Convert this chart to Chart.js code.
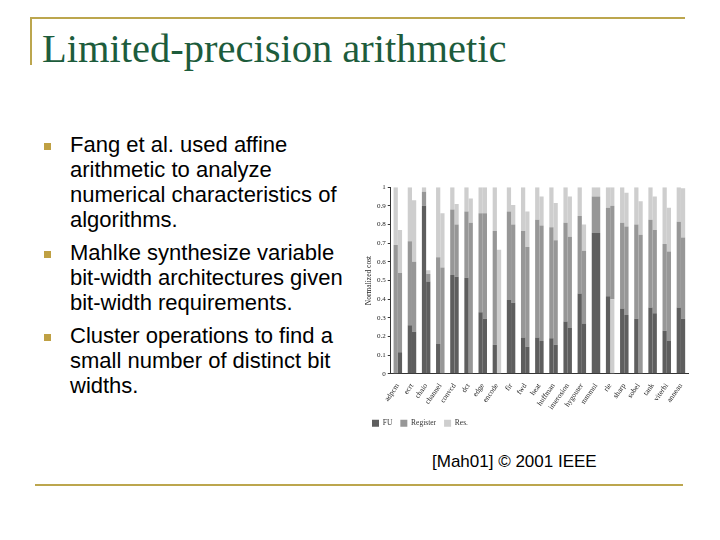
<!DOCTYPE html>
<html>
<head>
<meta charset="utf-8">
<script src="https://cdn.jsdelivr.net/npm/chart.js@4/dist/chart.umd.min.js"></script>
<style>
  html, body { margin: 0; padding: 0; background: #fff; }
  body { width: 720px; height: 540px; position: relative; overflow: hidden; }
  .rule { position: absolute; background: #bca64e; }
  #title { position: absolute; left: 42px; top: 24px; font: 40.5px "Liberation Serif", serif; color: #1d5c3c; line-height: 50px; white-space: nowrap; }
  .item { position: absolute; left: 70px; font: 22px "Liberation Sans", Arial, sans-serif; line-height: 25px; color: #000; white-space: nowrap; }
  .sq { position: absolute; left: 44px; width: 7px; height: 7px; background: #bfa043; }
  #cite { position: absolute; left: 432px; top: 452px; font: 17px "Liberation Sans", Arial, sans-serif; color: #000; white-space: nowrap; }
  #box { position: absolute; left: 358px; top: 181px; width: 332px; height: 262px; }
</style>
</head>
<body>
<div class="rule" style="left:30px;top:17px;width:655px;height:2px"></div>
<div class="rule" style="left:30px;top:17px;width:2px;height:48px"></div>
<div class="rule" style="left:35px;top:484px;width:648px;height:2px"></div>
<div id="title">Limited-precision arithmetic</div>

<div class="sq" style="top:143px"></div>
<div class="item" style="top:132px">Fang et al. used affine<br>arithmetic to analyze<br>numerical characteristics of<br>algorithms.</div>
<div class="sq" style="top:251px"></div>
<div class="item" style="top:240px">Mahlke synthesize variable<br>bit-width architectures given<br>bit-width requirements.</div>
<div class="sq" style="top:334px"></div>
<div class="item" style="top:323px">Cluster operations to find a<br>small number of distinct bit<br>widths.</div>

<div id="box"><canvas id="cost"></canvas></div>
<div id="cite">[Mah01] © 2001 IEEE</div>

<script>
// benchmarks, as printed under the bars
const benchmarks = ["adpcm", "ecrt", "chaio", "channel", "convcd", "dct", "edge", "encode", "fir", "fwd",
  "heat", "huffman", "imerosion", "hygouter", "mmmul", "rle", "sharp", "sobel", "tank", "viterbi", "anneau"];

// left bar of each pair (segment heights)
const fuA  = [0, 0.26, 0.90, 0.16, 0.53, 0.515, 0.33, 0.155, 0.395, 0.195, 0.195, 0.19, 0.28, 0.43, 0.755, 0.415, 0.35, 0.295, 0.355, 0.23, 0.355];
const regA = [0.69, 0.45, 0.075, 0.465, 0.35, 0.355, 0.53, 0.61, 0.475, 0.57, 0.63, 0.595, 0.53, 0.415, 0.195, 0.475, 0.46, 0.505, 0.47, 0.465, 0.46];
const resA = [0.31, 0.29, 0.025, 0.375, 0.12, 0.13, 0.14, 0.235, 0.13, 0.235, 0.175, 0.215, 0.19, 0.155, 0.05, 0.11, 0.19, 0.2, 0.175, 0.305, 0.185];

// right bar of each pair (segment heights); rle has a light part at the bottom
const lowB = [0, 0, 0, 0, 0, 0, 0, 0, 0, 0, 0, 0, 0, 0, 0, 0.40, 0, 0, 0, 0, 0];
const fuB  = [0.115, 0.225, 0.495, 0, 0.52, 0, 0.295, 0, 0.38, 0.145, 0.175, 0.155, 0.245, 0.27, 0.755, 0, 0.315, 0, 0.325, 0.175, 0.295];
const regB = [0.425, 0.375, 0.04, 0.57, 0.28, 0.81, 0.565, 0, 0.42, 0.535, 0.62, 0.56, 0.49, 0.39, 0.195, 0.5, 0.475, 0.745, 0.445, 0.48, 0.435];
const resB = [0.23, 0.33, 0.02, 0.29, 0.11, 0.13, 0.14, 0.665, 0.105, 0.19, 0.155, 0.2, 0.215, 0.14, 0.05, 0.10, 0.18, 0.18, 0.18, 0.235, 0.265];

const yTicks = [0, 0.1, 0.2, 0.3, 0.4, 0.5, 0.6, 0.7, 0.8, 0.9, 1];

const FU = "#5e5e5e", REG = "#979797", RES = "#cecece";
const small = { family: "Liberation Serif", size: 7 };
const label = { family: "Liberation Serif", size: 7.5 };

function set(name, data, color, stack) {
  return { label: name, data, backgroundColor: color, stack, borderWidth: 0 };
}

new Chart(document.getElementById("cost"), {
  type: "bar",
  data: {
    labels: benchmarks,
    datasets: [
      set("FU", fuA, FU, "a"),
      set("Register", regA, REG, "a"),
      set("Res.", resA, RES, "a"),
      set("", lowB, RES, "b"),
      set("FU", fuB, FU, "b"),
      set("Register", regB, REG, "b"),
      set("Res.", resB, RES, "b")
    ]
  },
  options: {
    responsive: true,
    maintainAspectRatio: false,
    animation: false,
    datasets: { bar: { categoryPercentage: 0.6, barPercentage: 1.0 } },
    layout: { padding: { left: 6, right: 2, top: 3, bottom: 6 } },
    plugins: {
      tooltip: { enabled: false },
      legend: {
        position: "bottom",
        align: "start",
        labels: {
          filter: (item) => item.datasetIndex < 3,
          boxWidth: 7, boxHeight: 7, padding: 8,
          color: "#333", font: label
        }
      }
    },
    scales: {
      x: {
        stacked: true,
        grid: { display: false },
        border: { color: "#333" },
        ticks: { color: "#222", font: label, autoSkip: false, minRotation: 55, maxRotation: 55, padding: 0 }
      },
      y: {
        stacked: true,
        min: 0, max: 1,
        afterBuildTicks: (axis) => { axis.ticks = yTicks.map(v => ({ value: v })); },
        grid: { drawOnChartArea: false, tickLength: 3, color: "#333" },
        border: { color: "#333" },
        ticks: { color: "#222", font: small, padding: 2, callback: (v) => String(v) },
        title: { display: true, text: "Normalized cost", color: "#222", font: label, padding: 1 }
      }
    }
  }
});
</script>
</body>
</html>
